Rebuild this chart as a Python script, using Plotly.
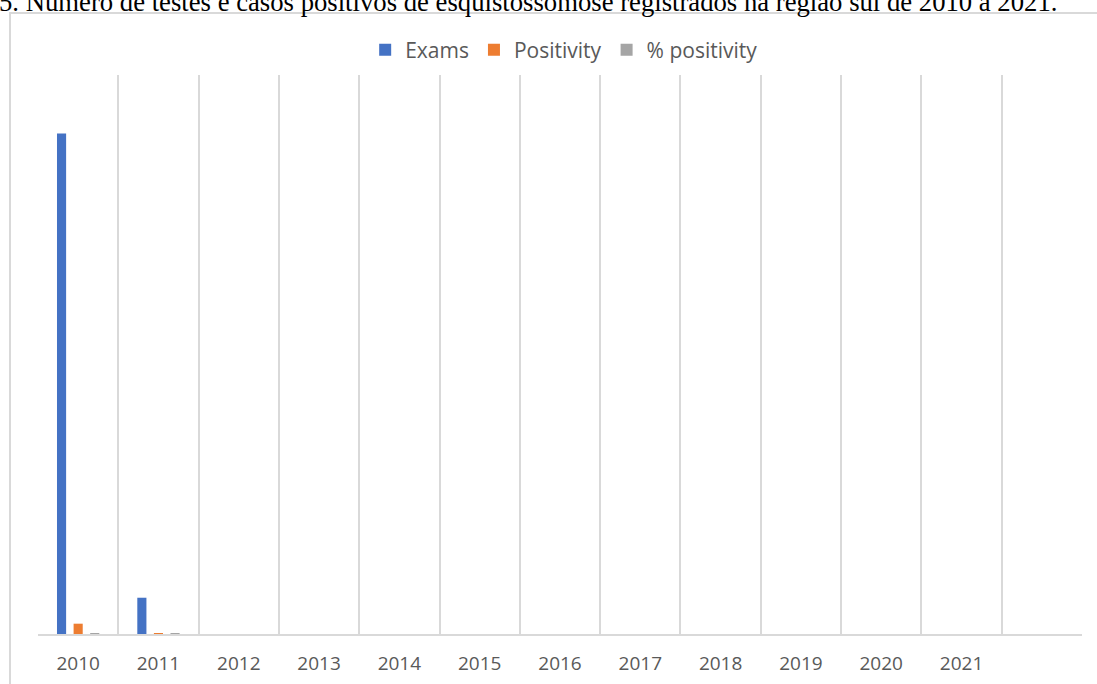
import plotly.graph_objects as go

# Year categories; the last slot is an empty category kept for spacing
years = ["2010", "2011", "2012", "2013", "2014", "2015", "2016",
         "2017", "2018", "2019", "2020", "2021", " "]

exams = [40300, 2920, 0, 0, 0, 0, 0, 0, 0, 0, 0, 0, None]
positivity = [830, 40, 0, 0, 0, 0, 0, 0, 0, 0, 0, 0, None]
pct_positivity = [2.06, 1.37, 0, 0, 0, 0, 0, 0, 0, 0, 0, 0, None]

series = [
    ("Exams", exams, "#4472C4"),
    ("Positivity", positivity, "#ED7D31"),
    ("% positivity", pct_positivity, "#A5A5A5"),
]

fig = go.Figure()
for name, vals, color in series:
    fig.add_trace(go.Bar(x=years, y=vals, name=name, marker_color=color,
                         marker_line_width=0))

grid = "#D9D9D9"
text_color = "#595959"

fig.update_layout(
    width=1097, height=684,
    margin=dict(l=38, r=15, t=75, b=50, autoexpand=False),
    paper_bgcolor="white", plot_bgcolor="white",
    barmode="group", bargap=0.38, bargroupgap=0.45,
    font=dict(family="Open Sans, sans-serif", color=text_color),
    legend=dict(orientation="h", x=0.504, xanchor="center",
                yref="paper", y=1.0447, yanchor="middle",
                font=dict(size=21), itemclick=False, tracegroupgap=0),
    xaxis=dict(type="category", tickson="boundaries", showgrid=True,
               gridcolor=grid, gridwidth=2, showline=True, linecolor=grid,
               linewidth=2, ticks="", ticklabelstandoff=11, automargin=False,
               tickfont=dict(size=19, color=text_color),
               range=[-0.5, 12.5]),
    yaxis=dict(visible=False, range=[0, 45000], showgrid=False,
               automargin=False),
)

# chart frame
fig.add_shape(type="rect", xref="paper", yref="paper",
              x0=-0.0268, x1=1.2, y0=-0.5, y1=1.1109,
              line=dict(color=grid, width=2), layer="below")

# caption line above the chart frame
fig.add_annotation(
    text="5. Número de testes e casos positivos de esquistossomose registrados na região sul de 2010 a 2021.",
    xref="paper", yref="paper", x=-0.039, y=1.1, xanchor="left", yanchor="bottom",
    showarrow=False, font=dict(family="Liberation Serif", size=26.7, color="black"),
)

fig.write_html("out.html")
